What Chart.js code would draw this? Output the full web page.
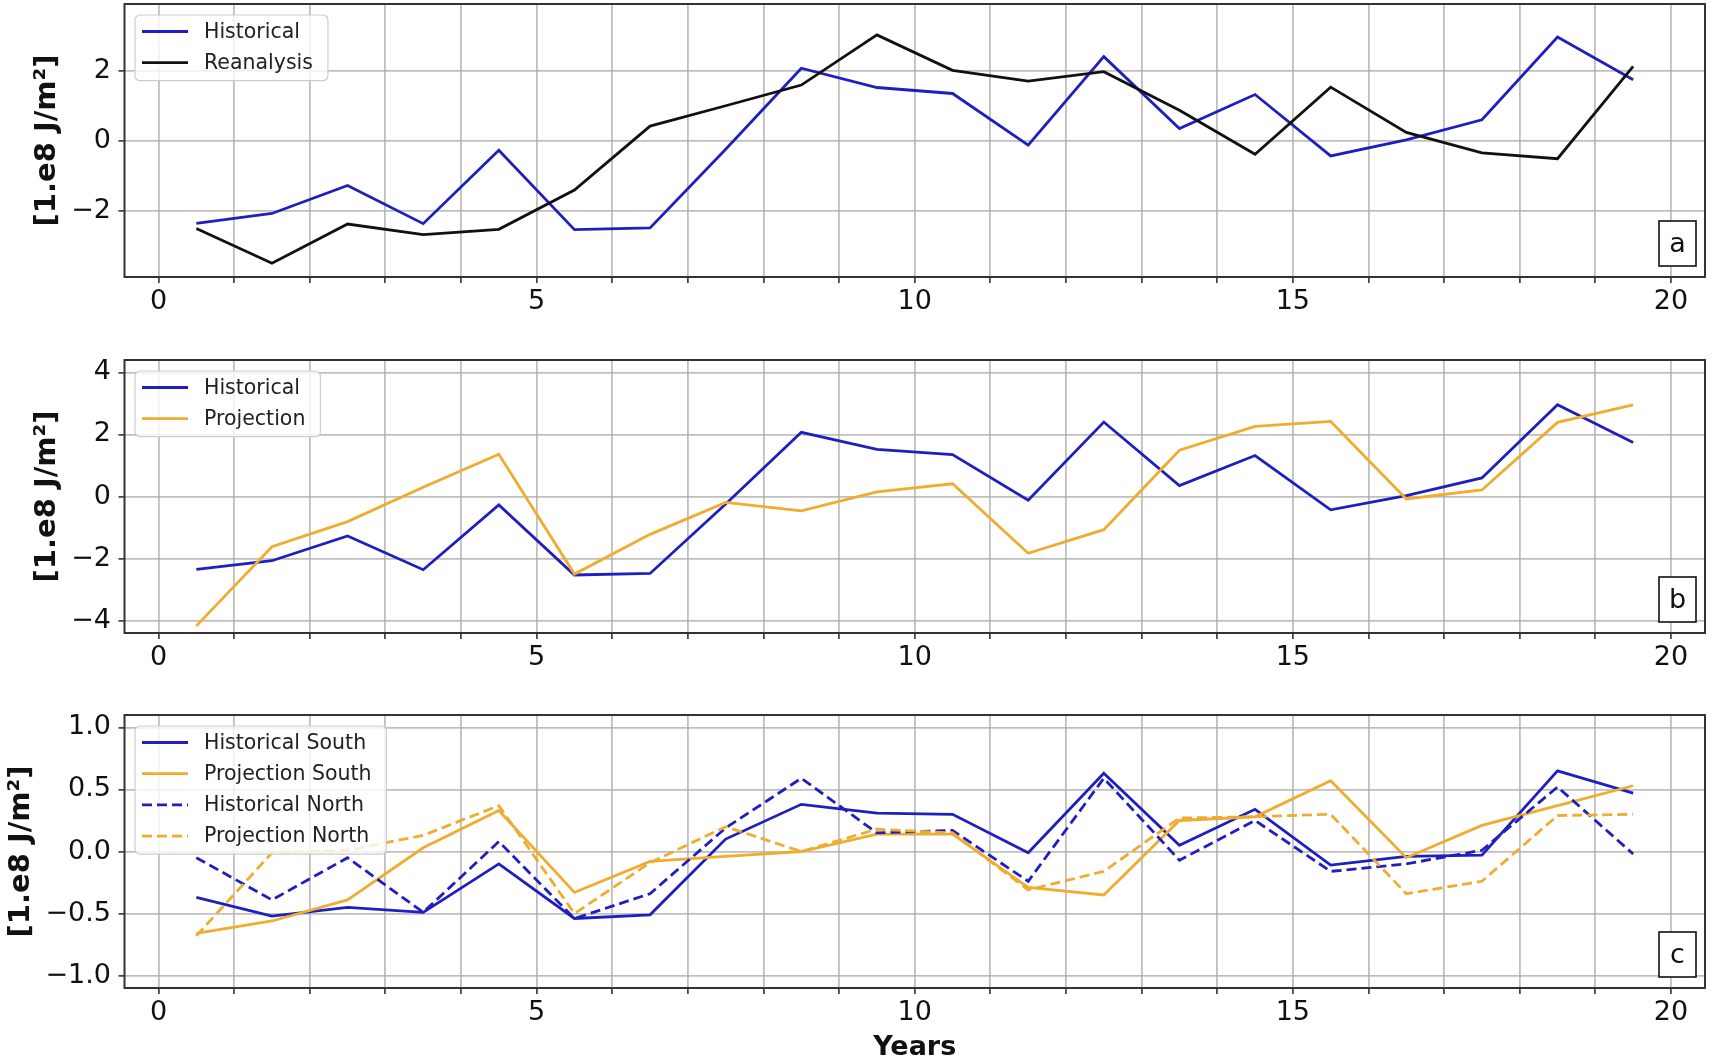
<!DOCTYPE html>
<html>
<head>
<meta charset="utf-8">
<title>Heat content anomalies</title>
<script src="https://cdn.jsdelivr.net/npm/chart.js@4.4.1/dist/chart.umd.min.js"></script>
<style>
  html, body { margin: 0; padding: 0; background: #fff; }
  #page { position: relative; width: 1712px; height: 1061px; overflow: hidden; }
  .panel { position: absolute; left: 0; width: 1712px; }
</style>
</head>
<body>
<div id="page">
  <div class="panel" style="top:0;height:320px"><canvas id="chart-a"></canvas></div>
  <div class="panel" style="top:320px;height:360px"><canvas id="chart-b"></canvas></div>
  <div class="panel" style="top:680px;height:381px"><canvas id="chart-c"></canvas></div>
</div>
<script>
// Values (units of 1.e8 J/m2), one per year, plotted at mid-year
const years = [0.5, 1.5, 2.5, 3.5, 4.5, 5.5, 6.5, 7.5, 8.5, 9.5, 10.5, 11.5, 12.5, 13.5, 14.5, 15.5, 16.5, 17.5, 18.5, 19.5];

const historical = [-2.35, -2.07, -1.27, -2.36, -0.27, -2.53, -2.48, -0.24, 2.07, 1.52, 1.35, -0.12, 2.40, 0.35, 1.32, -0.43, 0.03, 0.60, 2.96, 1.74];
const reanalysis = [-2.50, -3.49, -2.37, -2.67, -2.52, -1.40, 0.42, 1.00, 1.59, 3.02, 2.01, 1.70, 1.97, 0.87, -0.38, 1.53, 0.24, -0.34, -0.51, 2.12];
const projection = [-4.17, -1.62, -0.81, 0.30, 1.36, -2.50, -1.22, -0.19, -0.46, 0.15, 0.41, -1.83, -1.07, 1.49, 2.26, 2.42, -0.08, 0.21, 2.39, 2.95];

const historicalSouth = [-0.37, -0.52, -0.45, -0.49, -0.10, -0.54, -0.51, 0.10, 0.38, 0.31, 0.30, -0.01, 0.63, 0.05, 0.34, -0.11, -0.04, -0.03, 0.65, 0.47];
const projectionSouth = [-0.66, -0.56, -0.39, 0.03, 0.33, -0.33, -0.08, -0.04, 0.00, 0.14, 0.14, -0.29, -0.35, 0.25, 0.28, 0.57, -0.05, 0.21, 0.37, 0.53];
const historicalNorth = [-0.05, -0.39, -0.05, -0.49, 0.08, -0.54, -0.34, 0.19, 0.59, 0.15, 0.17, -0.24, 0.59, -0.07, 0.25, -0.16, -0.10, 0.01, 0.52, -0.02];
const projectionNorth = [-0.68, -0.01, 0.01, 0.13, 0.37, -0.50, -0.09, 0.20, 0.00, 0.18, 0.15, -0.31, -0.16, 0.27, 0.28, 0.30, -0.34, -0.24, 0.29, 0.30];

// Axis ticks
const xTicks = [0, 1, 2, 3, 4, 5, 6, 7, 8, 9, 10, 11, 12, 13, 14, 15, 16, 17, 18, 19, 20];
const xLabelled = [0, 5, 10, 15, 20];
const yTicksA = [-2, 0, 2];
const yTicksB = [-4, -2, 0, 2, 4];
const yTicksC = [-1, -0.5, 0, 0.5, 1];

const BLUE = '#1f1fbf';
const ORANGE = '#efac2e';
const BLACK = '#111111';
const GRID = 'rgba(170, 170, 170, 0.75)';

Chart.defaults.font.family = '"DejaVu Sans", sans-serif';

// Format like matplotlib: unicode minus, fixed decimals
function fmt(v, digits) {
    return (v < 0 ? '\u2212' : '') + Math.abs(v).toFixed(digits);
}

// Legend box, panel letter and the axes frame, drawn over the lines
const panelDecor = {
    id: 'panelDecor',
    afterDatasetsDraw(chart, args, opts) {
        const { ctx, chartArea: area } = chart;
        const sets = chart.data.datasets;
        ctx.save();

        ctx.font = '20.5px "DejaVu Sans"';
        const textW = Math.max(...sets.map(d => ctx.measureText(d.label).width));
        const rowH = 31.2;
        const bx = area.left + 10.5;
        const by = area.top + 11;
        const bw = 69 + textW + 15;
        const bh = 16.5 + rowH * (sets.length - 1) + 18;
        ctx.beginPath();
        ctx.roundRect(bx, by, bw, bh, 5);
        ctx.fillStyle = 'rgba(255, 255, 255, 0.8)';
        ctx.fill();
        ctx.strokeStyle = 'rgba(200, 200, 200, 0.9)';
        ctx.lineWidth = 1.2;
        ctx.stroke();

        sets.forEach((d, i) => {
            const y = by + 16.5 + i * rowH;
            ctx.beginPath();
            ctx.setLineDash(d.borderDash || []);
            ctx.strokeStyle = d.borderColor;
            ctx.lineWidth = d.borderWidth;
            ctx.moveTo(bx + 7, y);
            ctx.lineTo(bx + 53, y);
            ctx.stroke();
            ctx.setLineDash([]);
            ctx.fillStyle = '#222';
            ctx.textAlign = 'left';
            ctx.textBaseline = 'middle';
            ctx.fillText(d.label, bx + 69, y + 1);
        });

        // panel letter in a square box, lower right
        const lw = 37, lh = 45;
        const lx = area.right - 9 - lw;
        const ly = area.bottom - 11 - lh;
        ctx.fillStyle = '#fff';
        ctx.fillRect(lx, ly, lw, lh);
        ctx.strokeStyle = '#111';
        ctx.lineWidth = 1.6;
        ctx.strokeRect(lx, ly, lw, lh);
        ctx.font = '27px "DejaVu Sans"';
        ctx.fillStyle = '#111';
        ctx.textAlign = 'center';
        ctx.textBaseline = 'middle';
        ctx.fillText(opts.letter, lx + lw / 2, ly + lh / 2 + 1);

        // axes frame
        ctx.strokeStyle = '#333';
        ctx.lineWidth = 2;
        ctx.strokeRect(area.left, area.top, area.right - area.left, area.bottom - area.top);
        ctx.restore();
    }
};

function makePanel(canvasId, panel) {
    const datasets = panel.series.map((s, i) => ({
        label: s.label,
        data: years.map((x, j) => ({ x: x, y: s.values[j] })),
        borderColor: s.color,
        borderWidth: 2.8,
        borderDash: s.dash || [],
        pointRadius: 0,
        tension: 0,
        fill: false,
        order: -i // later series drawn on top, as in matplotlib
    }));

    return new Chart(document.getElementById(canvasId), {
        type: 'line',
        data: { datasets: datasets },
        options: {
            responsive: true,
            maintainAspectRatio: false,
            animation: false,
            events: [],
            layout: { padding: { top: panel.padTop, right: 7, bottom: 0, left: 0 } },
            plugins: {
                legend: { display: false },
                tooltip: { enabled: false },
                panelDecor: { letter: panel.letter }
            },
            scales: {
                x: {
                    type: 'linear',
                    min: -0.45,
                    max: 20.45,
                    afterBuildTicks: axis => { axis.ticks = xTicks.map(v => ({ value: v })); },
                    afterFit: axis => {
                        axis.height = panel.xHeight;
                        axis.paddingLeft = 0;
                        axis.paddingRight = 0;
                    },
                    ticks: {
                        autoSkip: false,
                        maxRotation: 0,
                        padding: 3,
                        color: '#111',
                        font: { size: 27 },
                        callback: v => xLabelled.includes(v) ? String(v) : ''
                    },
                    grid: { color: GRID, lineWidth: 1.8, tickLength: 6, tickColor: '#333', tickWidth: 1.6 },
                    border: { display: false },
                    title: panel.xTitle
                        ? { display: true, text: 'Years', color: '#111', font: { size: 27, weight: 'bold', lineHeight: 1 }, padding: { top: 0, bottom: 0 } }
                        : { display: false }
                },
                y: {
                    min: panel.yMin,
                    max: panel.yMax,
                    afterBuildTicks: axis => { axis.ticks = panel.yTicks.map(v => ({ value: v })); },
                    afterFit: axis => {
                        axis.width = 124.5;
                        axis.paddingTop = 0;
                        axis.paddingBottom = 0;
                    },
                    ticks: {
                        padding: 7.5,
                        color: '#111',
                        font: { size: 27 },
                        callback: v => fmt(v, panel.digits)
                    },
                    grid: { color: GRID, lineWidth: 1.8, tickLength: 6, tickColor: '#333', tickWidth: 1.6 },
                    border: { display: false },
                    title: {
                        display: true,
                        text: '[1.e8 J/m\u00b2]',
                        color: '#111',
                        font: { size: 29, weight: 'bold', lineHeight: 1 },
                        padding: { top: panel.titlePad, bottom: 0 }
                    }
                }
            }
        },
        plugins: [panelDecor]
    });
}

makePanel('chart-a', {
    letter: 'a', padTop: 4, xHeight: 43, yMin: -3.88, yMax: 3.9, yTicks: yTicksA, digits: 0, titlePad: 32.5,
    series: [
        { label: 'Historical', values: historical, color: BLUE },
        { label: 'Reanalysis', values: reanalysis, color: BLACK }
    ]
});

makePanel('chart-b', {
    letter: 'b', padTop: 40, xHeight: 47, yMin: -4.4, yMax: 4.4, yTicks: yTicksB, digits: 0, titlePad: 32.5,
    series: [
        { label: 'Historical', values: historical, color: BLUE },
        { label: 'Projection', values: projection, color: ORANGE }
    ]
});

makePanel('chart-c', {
    letter: 'c', padTop: 35, xHeight: 73, yMin: -1.1, yMax: 1.1, yTicks: yTicksC, digits: 1, titlePad: 7, xTitle: true,
    series: [
        { label: 'Historical South', values: historicalSouth, color: BLUE },
        { label: 'Projection South', values: projectionSouth, color: ORANGE },
        { label: 'Historical North', values: historicalNorth, color: BLUE, dash: [10, 5] },
        { label: 'Projection North', values: projectionNorth, color: ORANGE, dash: [10, 5] }
    ]
});
</script>
</body>
</html>
